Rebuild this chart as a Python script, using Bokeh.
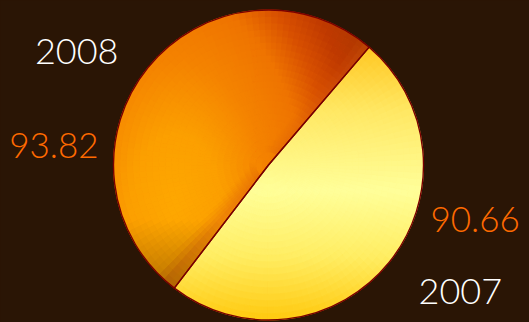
import math
import numpy as np
from bokeh.plotting import figure
from bokeh.models import Range1d, ColumnDataSource, GlobalInlineStyleSheet
from bokeh.embed import file_html
from bokeh.resources import INLINE
from bokeh.core.properties import value

# ---- data ----
years = ["2008", "2007"]
amounts = [93.82, 90.66]
amount_labels = ["93.82", "90.66"]

# ---- style / layout ----
BG = "#2a1505"
W, H = 529, 322
CX, CY, R = 268.0, 157.5, 155.0
START_DEG = 49.5
base_colors = ["#f07a00", "#ffec66"]
outline_color = "#7a0000"
cat_color = "#ffffff"
val_color = "#ff6a00"
FONT = "Lato Light, Lato"
cat_polar = [(142.9, 188.1), (-40.1, 196.2)]   # (angle deg, radius)
val_polar = [(173.5, 171.1), (-18.6, 170.9)]
cat_align = ["right", "left"]

yellow_stops = [(40, "#ffc41c"), (110, "#ffe864"), (190, "#ffff9a"), (255, "#ffee64"), (322, "#ffc80c")]
orange_stops = [(0, "#ffa800"), (50, "#fca000"), (100, "#f58400"), (145, "#ef7400"),
                (175, "#d85000"), (205, "#c03a00"), (240, "#ae3800")]
band_color = "#d85a10"


def h2rgb(h):
    h = h.lstrip("#")
    return np.array([int(h[i:i + 2], 16) for i in (0, 2, 4)], dtype=float)


def interp(stops, t):
    pos = [s[0] for s in stops]
    cols = [h2rgb(s[1]) for s in stops]
    if t <= pos[0]:
        return cols[0]
    if t >= pos[-1]:
        return cols[-1]
    for i in range(len(pos) - 1):
        if pos[i] <= t <= pos[i + 1]:
            f = (t - pos[i]) / (pos[i + 1] - pos[i])
            return cols[i] * (1 - f) + cols[i + 1] * f
    return cols[-1]


def rgb2h(c):
    c = np.clip(c, 0, 255).astype(int)
    return "#%02x%02x%02x" % tuple(c)


def shade(idx, sx, sy, rm, am, line_ang):
    if idx == 1:
        return rgb2h(interp(yellow_stops, sy))
    d = math.hypot((sx - 175) * 1.1, (sy - 205) * 0.7)
    c = interp(orange_stops, d)
    # slightly darker toward the split line
    perp = abs(rm * math.sin(am - line_ang))
    if perp < 14 and rm > 12:
        f = (1 - perp / 14.0) * 0.4
        c = c * (1 - f) + h2rgb(band_color) * f
    fac = 1 - 0.28 * min(1.0, max(0.0, (sy - 220) / 70.0))
    return rgb2h(c * fac)


total = sum(amounts)
starts, ends = [], []
a = math.radians(START_DEG)
for v in amounts:
    starts.append(a)
    a += 2 * math.pi * v / total
    ends.append(a)

p = figure(width=W, height=H, x_range=Range1d(0, W), y_range=Range1d(0, H),
           output_backend="svg", toolbar_location=None,
           x_axis_location=None, y_axis_location=None, min_border=0,
           background_fill_color=BG, border_fill_color=BG, outline_line_color=None)
p.xgrid.visible = False
p.ygrid.visible = False
p.stylesheets = [GlobalInlineStyleSheet(css="html, body { background-color: #2a1505; overflow: hidden; }")]

src = ColumnDataSource(dict(year=years, amount=amounts, start=starts, end=ends, color=base_colors))
p.wedge(x=CX, y=CY, radius=R, start_angle="start", end_angle="end", fill_color="color",
        line_color=None, source=src)

# gradient shading cells
ir, orr, sa, ea, cols = [], [], [], [], []
n_rad = 24
redges = np.linspace(0, R, n_rad + 1)
for i in range(len(amounts)):
    span = ends[i] - starts[i]
    n_ang = int(math.ceil(math.degrees(span) / 2.5))
    aedges = np.linspace(starts[i], ends[i], n_ang + 1)
    for j in range(n_ang):
        for k in range(n_rad):
            am = 0.5 * (aedges[j] + aedges[j + 1])
            rm = 0.5 * (redges[k] + redges[k + 1])
            sx = CX + rm * math.cos(am)
            sy = H - (CY + rm * math.sin(am))
            ir.append(redges[k])
            orr.append(redges[k + 1])
            sa.append(aedges[j])
            ea.append(aedges[j + 1])
            cols.append(shade(i, sx, sy, rm, am, starts[0]))
cells = ColumnDataSource(dict(ir=ir, orr=orr, sa=sa, ea=ea, c=cols))
p.annular_wedge(x=CX, y=CY, inner_radius="ir", outer_radius="orr", start_angle="sa",
                end_angle="ea", fill_color="c", line_color="c", line_width=0.8, source=cells)

# outline
p.wedge(x=CX, y=CY, radius=R, start_angle="start", end_angle="end", fill_color=None,
        line_color=outline_color, line_width=1.4, source=src)

# labels
cx_l = [CX + r * math.cos(math.radians(ang)) for ang, r in cat_polar]
cy_l = [CY + r * math.sin(math.radians(ang)) for ang, r in cat_polar]
vx_l = [CX + r * math.cos(math.radians(ang)) for ang, r in val_polar]
vy_l = [CY + r * math.sin(math.radians(ang)) for ang, r in val_polar]
lab = ColumnDataSource(dict(cx=cx_l, cy=cy_l, vx=vx_l, vy=vy_l, year=years,
                            val=amount_labels, align=cat_align))
p.text(x="cx", y="cy", text="year", text_align="align", text_baseline="middle",
       text_color=cat_color, text_font=value(FONT), text_font_size="36px", source=lab)
p.text(x="vx", y="vy", text="val", text_align="align", text_baseline="middle",
       text_color=val_color, text_font=value(FONT), text_font_size="35px", source=lab)

open("out.html", "w").write(file_html(p, INLINE))
